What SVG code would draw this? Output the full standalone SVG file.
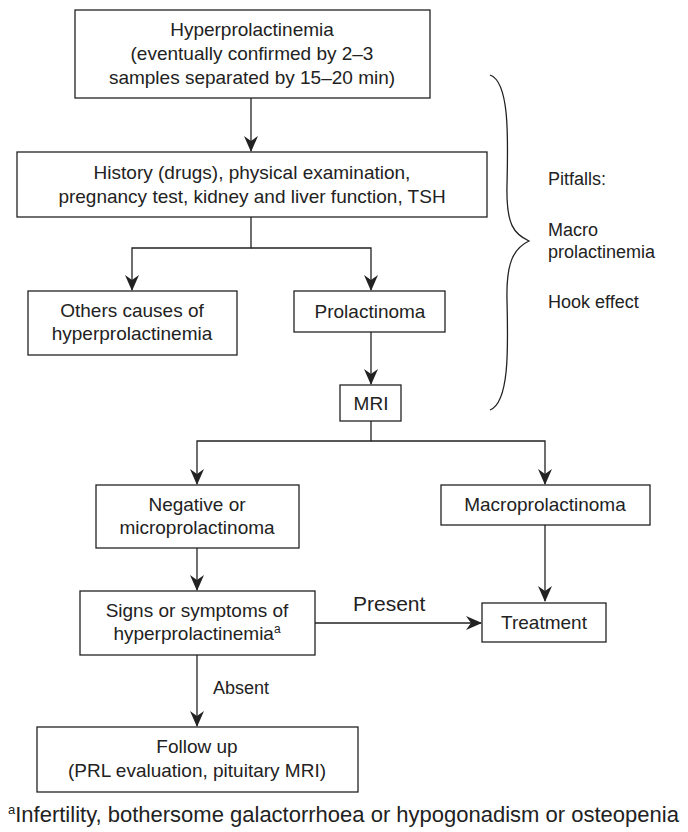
<svg xmlns="http://www.w3.org/2000/svg" width="688" height="832" viewBox="0 0 688 832">
<defs>
<style>
.box{fill:#fff;stroke:#222;stroke-width:1.3}
.t{font-family:"Liberation Sans",Arial,sans-serif;font-size:19px;fill:#222;text-anchor:middle}
.l{font-family:"Liberation Sans",Arial,sans-serif;font-size:18px;fill:#222}
.c{fill:none;stroke:#222;stroke-width:1.3}
</style>
<marker id="ah" viewBox="0 0 16 16" refX="15" refY="8" markerWidth="16" markerHeight="16" markerUnits="userSpaceOnUse" orient="auto">
<path d="M0,1 L16,8 L0,15 L5,8 Z" fill="#222"/>
</marker>
</defs>
<rect width="688" height="832" fill="#fff"/>
<g id="connectors">
<line class="c" x1="251" y1="98" x2="251" y2="151" marker-end="url(#ah)"/>
<polyline class="c" points="251,217 251,248 132,248 132,290" marker-end="url(#ah)"/>
<polyline class="c" points="251,248 371,248 371,290" marker-end="url(#ah)"/>
<line class="c" x1="371" y1="332" x2="371" y2="384" marker-end="url(#ah)"/>
<polyline class="c" points="371,421 371,441 197,441 197,484" marker-end="url(#ah)"/>
<polyline class="c" points="371,441 545,441 545,484" marker-end="url(#ah)"/>
<line class="c" x1="197" y1="548" x2="197" y2="590" marker-end="url(#ah)"/>
<line class="c" x1="545" y1="525" x2="545" y2="601" marker-end="url(#ah)"/>
<line class="c" x1="315" y1="623" x2="481" y2="623" marker-end="url(#ah)"/>
<line class="c" x1="197" y1="655" x2="197" y2="726" marker-end="url(#ah)"/>
<text class="l" x="353" y="611" style="font-size:21px">Present</text>
<text class="l" x="213" y="694">Absent</text>
</g>
<g id="n1"><rect class="box" x="75" y="10" width="355" height="88"/>
<text class="t" x="252" y="36">Hyperprolactinemia</text>
<text class="t" x="252" y="60">(eventually confirmed by 2–3</text>
<text class="t" x="252" y="84">samples separated by 15–20 min)</text></g>
<g id="n2"><rect class="box" x="17" y="152" width="470" height="65"/>
<text class="t" x="252" y="179">History (drugs), physical examination,</text>
<text class="t" x="252" y="203">pregnancy test, kidney and liver function, TSH</text></g>
<g id="n3"><rect class="box" x="28" y="291" width="209" height="64"/>
<text class="t" x="132" y="317">Others causes of</text>
<text class="t" x="132" y="340">hyperprolactinemia</text></g>
<g id="n4"><rect class="box" x="294" y="291" width="151" height="41"/>
<text class="t" x="370" y="318">Prolactinoma</text></g>
<g id="n5"><rect class="box" x="340" y="385" width="61" height="36"/>
<text class="t" x="371" y="410">MRI</text></g>
<g id="n6"><rect class="box" x="96" y="485" width="203" height="63"/>
<text class="t" x="197" y="511">Negative or</text>
<text class="t" x="197" y="534">microprolactinoma</text></g>
<g id="n7"><rect class="box" x="441" y="485" width="209" height="40"/>
<text class="t" x="545" y="511">Macroprolactinoma</text></g>
<g id="n8"><rect class="box" x="80" y="591" width="235" height="64"/>
<text class="t" x="197" y="617">Signs or symptoms of</text>
<text class="t" x="197" y="640">hyperprolactinemia<tspan dy="-7" style="font-size:12px">a</tspan></text></g>
<g id="n9"><rect class="box" x="482" y="603" width="124" height="39"/>
<text class="t" x="544" y="629">Treatment</text></g>
<g id="n10"><rect class="box" x="37" y="727" width="321" height="65"/>
<text class="t" x="197" y="753">Follow up</text>
<text class="t" x="197" y="777">(PRL evaluation, pituitary MRI)</text></g>
<g id="pitfalls">
<path class="c" d="M490,75 C510,82 508,140 507,185 C506,225 514,234 529,241 C514,248 506,262 507,300 C508,345 510,402 490,410"/>
<text class="l" x="548" y="185">Pitfalls:</text>
<text class="l" x="548" y="236">Macro</text>
<text class="l" x="548" y="258">prolactinemia</text>
<text class="l" x="548" y="308">Hook effect</text>
</g>
<text class="l" x="8" y="822" style="font-size:22px"><tspan dy="-8" style="font-size:13px">a</tspan><tspan dy="8">Infertility, bothersome galactorrhoea or hypogonadism or osteopenia</tspan></text>
</svg>
